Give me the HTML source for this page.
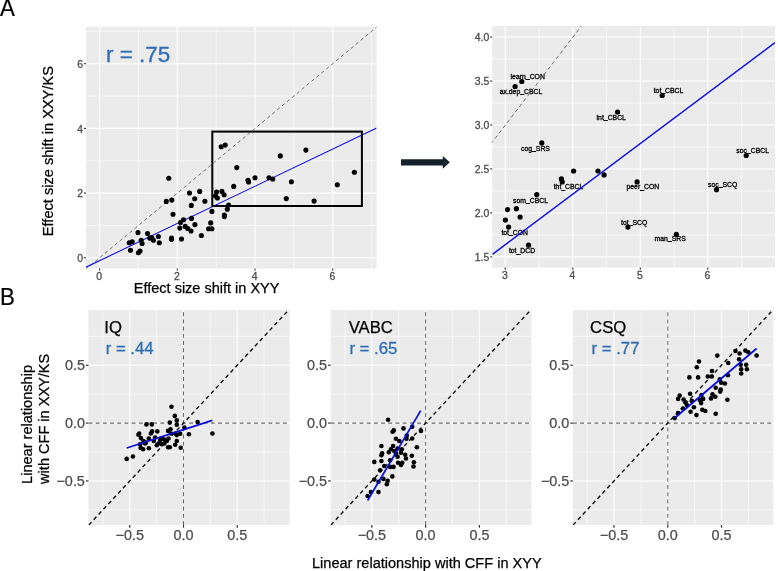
<!DOCTYPE html><html><head><meta charset="utf-8"><title>Figure</title><style>
html,body{margin:0;padding:0;background:#fff;}body{width:778px;height:571px;overflow:hidden;}
svg{display:block;font-family:"Liberation Sans",sans-serif;will-change:transform;}
</style></head><body>
<svg width="778" height="571" viewBox="0 0 778 571">
<rect width="778" height="571" fill="#fff"/>
<clipPath id="cA"><rect x="86.0" y="26.7" width="290.60" height="241.80"/></clipPath>
<rect x="86.0" y="26.7" width="290.60" height="241.80" fill="#EBEBEB"/>
<g stroke="#fff" stroke-width="0.62">
<line x1="138.45" y1="26.7" x2="138.45" y2="268.5"/>
<line x1="216.15" y1="26.7" x2="216.15" y2="268.5"/>
<line x1="293.85" y1="26.7" x2="293.85" y2="268.5"/>
<line x1="371.55" y1="26.7" x2="371.55" y2="268.5"/>
<line x1="86.0" y1="225.45" x2="376.6" y2="225.45"/>
<line x1="86.0" y1="160.75" x2="376.6" y2="160.75"/>
<line x1="86.0" y1="96.05" x2="376.6" y2="96.05"/>
<line x1="86.0" y1="31.35" x2="376.6" y2="31.35"/>
</g><g stroke="#fff" stroke-width="1.1">
<line x1="99.60" y1="26.7" x2="99.60" y2="268.5"/>
<line x1="177.30" y1="26.7" x2="177.30" y2="268.5"/>
<line x1="255.00" y1="26.7" x2="255.00" y2="268.5"/>
<line x1="332.70" y1="26.7" x2="332.70" y2="268.5"/>
<line x1="86.0" y1="257.80" x2="376.6" y2="257.80"/>
<line x1="86.0" y1="193.10" x2="376.6" y2="193.10"/>
<line x1="86.0" y1="128.40" x2="376.6" y2="128.40"/>
<line x1="86.0" y1="63.70" x2="376.6" y2="63.70"/>
</g>
<g clip-path="url(#cA)">
<line x1="60.7" y1="290.2" x2="410.4" y2="-1.0" stroke="#707070" stroke-width="1" stroke-dasharray="3.4 3"/>
<line x1="86" y1="267.2" x2="376.6" y2="128.0" stroke="#0A0ADC" stroke-width="1.05"/>
<g fill="#000">
<circle cx="129.2" cy="242.7" r="2.55"/>
<circle cx="132.2" cy="241.8" r="2.55"/>
<circle cx="130.5" cy="250.2" r="2.55"/>
<circle cx="138.0" cy="232.6" r="2.55"/>
<circle cx="141.2" cy="240.2" r="2.55"/>
<circle cx="142.1" cy="243.5" r="2.55"/>
<circle cx="140.0" cy="251.0" r="2.55"/>
<circle cx="138.4" cy="252.7" r="2.55"/>
<circle cx="147.6" cy="233.5" r="2.55"/>
<circle cx="149.7" cy="238.1" r="2.55"/>
<circle cx="151.7" cy="237.6" r="2.55"/>
<circle cx="153.4" cy="240.2" r="2.55"/>
<circle cx="158.4" cy="236.5" r="2.55"/>
<circle cx="159.3" cy="242.7" r="2.55"/>
<circle cx="166.3" cy="201.4" r="2.55"/>
<circle cx="171.8" cy="200.1" r="2.55"/>
<circle cx="173.0" cy="214.3" r="2.55"/>
<circle cx="171.5" cy="238.0" r="2.55"/>
<circle cx="171.5" cy="239.2" r="2.55"/>
<circle cx="181.5" cy="239.0" r="2.55"/>
<circle cx="183.5" cy="219.8" r="2.55"/>
<circle cx="180.5" cy="222.6" r="2.55"/>
<circle cx="179.8" cy="228.1" r="2.55"/>
<circle cx="185.2" cy="226.4" r="2.55"/>
<circle cx="187.7" cy="228.5" r="2.55"/>
<circle cx="191.0" cy="231.0" r="2.55"/>
<circle cx="191.5" cy="218.4" r="2.55"/>
<circle cx="194.9" cy="224.6" r="2.55"/>
<circle cx="201.4" cy="235.5" r="2.55"/>
<circle cx="189.5" cy="193.0" r="2.55"/>
<circle cx="199.7" cy="191.4" r="2.55"/>
<circle cx="194.7" cy="198.7" r="2.55"/>
<circle cx="191.3" cy="205.4" r="2.55"/>
<circle cx="204.9" cy="201.2" r="2.55"/>
<circle cx="211.9" cy="211.4" r="2.55"/>
<circle cx="210.7" cy="222.9" r="2.55"/>
<circle cx="208.6" cy="228.8" r="2.55"/>
<circle cx="211.9" cy="228.8" r="2.55"/>
<circle cx="216.6" cy="192.0" r="2.55"/>
<circle cx="221.9" cy="191.4" r="2.55"/>
<circle cx="215.6" cy="195.9" r="2.55"/>
<circle cx="217.4" cy="198.0" r="2.55"/>
<circle cx="224.1" cy="194.7" r="2.55"/>
<circle cx="228.6" cy="205.1" r="2.55"/>
<circle cx="227.3" cy="209.2" r="2.55"/>
<circle cx="224.4" cy="215.1" r="2.55"/>
<circle cx="224.4" cy="216.6" r="2.55"/>
<circle cx="233.7" cy="186.4" r="2.55"/>
<circle cx="248.0" cy="180.3" r="2.55"/>
<circle cx="248.6" cy="181.9" r="2.55"/>
<circle cx="168.8" cy="178.2" r="2.55"/>
<circle cx="221.2" cy="146.8" r="2.55"/>
<circle cx="225.2" cy="145.1" r="2.55"/>
<circle cx="236.8" cy="167.6" r="2.55"/>
<circle cx="280.3" cy="155.9" r="2.55"/>
<circle cx="305.9" cy="150.1" r="2.55"/>
<circle cx="255.0" cy="177.7" r="2.55"/>
<circle cx="269.0" cy="177.7" r="2.55"/>
<circle cx="272.7" cy="179.0" r="2.55"/>
<circle cx="291.4" cy="181.8" r="2.55"/>
<circle cx="286.3" cy="198.6" r="2.55"/>
<circle cx="314.1" cy="201.1" r="2.55"/>
<circle cx="354.4" cy="172.2" r="2.55"/>
<circle cx="337.3" cy="184.7" r="2.55"/>
</g>
</g>
<rect x="212.3" y="131.6" width="149.6" height="74.4" fill="none" stroke="#000" stroke-width="2"/>
<text x="106.1" y="61.9" font-size="22.4" fill="#2F6EB5" stroke="#2F6EB5" stroke-width="0.35">r = .75</text>
<g stroke="#333" stroke-width="1.1">
<line x1="83.9" y1="257.80" x2="86" y2="257.80"/>
<line x1="99.60" y1="268.5" x2="99.60" y2="270.6"/>
<line x1="83.9" y1="193.10" x2="86" y2="193.10"/>
<line x1="177.30" y1="268.5" x2="177.30" y2="270.6"/>
<line x1="83.9" y1="128.40" x2="86" y2="128.40"/>
<line x1="255.00" y1="268.5" x2="255.00" y2="270.6"/>
<line x1="83.9" y1="63.70" x2="86" y2="63.70"/>
<line x1="332.70" y1="268.5" x2="332.70" y2="270.6"/>
</g>
<g font-size="10.4" fill="#4D4D4D" stroke="#4D4D4D" stroke-width="0.3">
<text x="83.0" y="262.0" text-anchor="end">0</text>
<text x="99.2" y="280.2" text-anchor="middle">0</text>
<text x="83.0" y="197.3" text-anchor="end">2</text>
<text x="176.9" y="280.2" text-anchor="middle">2</text>
<text x="83.0" y="132.6" text-anchor="end">4</text>
<text x="254.6" y="280.2" text-anchor="middle">4</text>
<text x="83.0" y="67.9" text-anchor="end">6</text>
<text x="332.3" y="280.2" text-anchor="middle">6</text>
</g>
<text x="133.8" y="293" font-size="14.5" fill="#000" stroke="#000" stroke-width="0.25">Effect size shift in XYY</text>
<text transform="translate(52.9,236.2) rotate(-90)" font-size="14.6" fill="#000" stroke="#000" stroke-width="0.25">Effect size shift in XXY/KS</text>
<text transform="translate(-0.1,15.6) scale(1,1.065)" font-size="22.3" fill="#000" stroke="#000" stroke-width="0.2">A</text>
<text transform="translate(0.1,305.0) scale(1,1.065)" font-size="22.3" fill="#000" stroke="#000" stroke-width="0.2">B</text>
<path d="M401 159.3 H442.8 V156 L449.8 162.3 L442.8 168.7 V165.4 H401 Z" fill="#14212B"/>
<clipPath id="cR"><rect x="492.2" y="25.9" width="282.80" height="241.70"/></clipPath>
<rect x="492.2" y="25.9" width="282.80" height="241.70" fill="#EBEBEB"/>
<g stroke="#fff" stroke-width="0.62">
<line x1="539.05" y1="25.9" x2="539.05" y2="267.6"/>
<line x1="606.55" y1="25.9" x2="606.55" y2="267.6"/>
<line x1="674.05" y1="25.9" x2="674.05" y2="267.6"/>
<line x1="741.55" y1="25.9" x2="741.55" y2="267.6"/>
<line x1="492.2" y1="234.92" x2="775.0" y2="234.92"/>
<line x1="492.2" y1="190.94" x2="775.0" y2="190.94"/>
<line x1="492.2" y1="146.97" x2="775.0" y2="146.97"/>
<line x1="492.2" y1="103.00" x2="775.0" y2="103.00"/>
<line x1="492.2" y1="59.03" x2="775.0" y2="59.03"/>
</g><g stroke="#fff" stroke-width="1.1">
<line x1="505.30" y1="25.9" x2="505.30" y2="267.6"/>
<line x1="572.80" y1="25.9" x2="572.80" y2="267.6"/>
<line x1="640.30" y1="25.9" x2="640.30" y2="267.6"/>
<line x1="707.80" y1="25.9" x2="707.80" y2="267.6"/>
<line x1="492.2" y1="256.90" x2="775.0" y2="256.90"/>
<line x1="492.2" y1="212.93" x2="775.0" y2="212.93"/>
<line x1="492.2" y1="168.96" x2="775.0" y2="168.96"/>
<line x1="492.2" y1="124.99" x2="775.0" y2="124.99"/>
<line x1="492.2" y1="81.02" x2="775.0" y2="81.02"/>
<line x1="492.2" y1="37.05" x2="775.0" y2="37.05"/>
</g>
<g font-size="6.85" fill="#000" stroke="#000" stroke-width="0.3">
<text x="510.6" y="78.5">learn<tspan dy="-0.7">_</tspan><tspan dy="0.7">CON</tspan></text>
<text x="499.7" y="94.0">ax.dep<tspan dy="-0.7">_</tspan><tspan dy="0.7">CBCL</tspan></text>
<text x="521.0" y="150.6">cog<tspan dy="-0.7">_</tspan><tspan dy="0.7">SRS</tspan></text>
<text x="553.7" y="189.4">tht<tspan dy="-0.7">_</tspan><tspan dy="0.7">CBCL</tspan></text>
<text x="596.6" y="119.7">int<tspan dy="-0.7">_</tspan><tspan dy="0.7">CBCL</tspan></text>
<text x="513.1" y="202.6">som<tspan dy="-0.7">_</tspan><tspan dy="0.7">CBCL</tspan></text>
<text x="501.4" y="234.8">tot<tspan dy="-0.7">_</tspan><tspan dy="0.7">CON</tspan></text>
<text x="508.9" y="253.2">tot<tspan dy="-0.7">_</tspan><tspan dy="0.7">DCD</tspan></text>
<text x="653.7" y="92.7">tot<tspan dy="-0.7">_</tspan><tspan dy="0.7">CBCL</tspan></text>
<text x="626.5" y="189.4">peer<tspan dy="-0.7">_</tspan><tspan dy="0.7">CON</tspan></text>
<text x="708.0" y="186.7">soc<tspan dy="-0.7">_</tspan><tspan dy="0.7">SCQ</tspan></text>
<text x="736.3" y="152.6">soc<tspan dy="-0.7">_</tspan><tspan dy="0.7">CBCL</tspan></text>
<text x="621.1" y="224.5">tot<tspan dy="-0.7">_</tspan><tspan dy="0.7">SCQ</tspan></text>
<text x="654.5" y="240.9">man<tspan dy="-0.7">_</tspan><tspan dy="0.7">SRS</tspan></text>
</g>
<g clip-path="url(#cR)">
<line x1="437.8" y1="213.1" x2="640.3" y2="-50.7" stroke="#6c6c6c" stroke-width="1" stroke-dasharray="3.8 2.9"/>
<g fill="#000">
<circle cx="521.8" cy="81.5" r="2.6"/>
<circle cx="515.1" cy="86.5" r="2.6"/>
<circle cx="541.8" cy="142.9" r="2.6"/>
<circle cx="573.6" cy="171.0" r="2.6"/>
<circle cx="598.0" cy="171.0" r="2.6"/>
<circle cx="604.1" cy="174.9" r="2.6"/>
<circle cx="561.4" cy="178.9" r="2.6"/>
<circle cx="562.2" cy="181.9" r="2.6"/>
<circle cx="536.8" cy="194.6" r="2.6"/>
<circle cx="507.6" cy="209.6" r="2.6"/>
<circle cx="516.4" cy="208.7" r="2.6"/>
<circle cx="520.1" cy="217.1" r="2.6"/>
<circle cx="505.4" cy="220.1" r="2.6"/>
<circle cx="508.6" cy="227.1" r="2.6"/>
<circle cx="528.5" cy="245.2" r="2.6"/>
<circle cx="662.2" cy="95.5" r="2.6"/>
<circle cx="617.6" cy="112.0" r="2.6"/>
<circle cx="637.1" cy="181.9" r="2.6"/>
<circle cx="716.5" cy="189.7" r="2.6"/>
<circle cx="746.2" cy="155.5" r="2.6"/>
<circle cx="627.9" cy="227.1" r="2.6"/>
<circle cx="676.3" cy="234.4" r="2.6"/>
</g>
<line x1="492.4" y1="254.4" x2="775" y2="42.6" stroke="#0A0ADC" stroke-width="1.4"/>
</g>
<g stroke="#333" stroke-width="1.1">
<line x1="490.2" y1="256.90" x2="492.2" y2="256.90"/>
<line x1="490.2" y1="212.93" x2="492.2" y2="212.93"/>
<line x1="490.2" y1="168.96" x2="492.2" y2="168.96"/>
<line x1="490.2" y1="124.99" x2="492.2" y2="124.99"/>
<line x1="490.2" y1="81.02" x2="492.2" y2="81.02"/>
<line x1="490.2" y1="37.05" x2="492.2" y2="37.05"/>
<line x1="505.30" y1="267.6" x2="505.30" y2="269.7"/>
<line x1="572.80" y1="267.6" x2="572.80" y2="269.7"/>
<line x1="640.30" y1="267.6" x2="640.30" y2="269.7"/>
<line x1="707.80" y1="267.6" x2="707.80" y2="269.7"/>
</g>
<g font-size="10.4" fill="#4D4D4D" stroke="#4D4D4D" stroke-width="0.3">
<text x="489.3" y="260.8" text-anchor="end">1.5</text>
<text x="489.3" y="216.8" text-anchor="end">2.0</text>
<text x="489.3" y="172.9" text-anchor="end">2.5</text>
<text x="489.3" y="128.9" text-anchor="end">3.0</text>
<text x="489.3" y="84.9" text-anchor="end">3.5</text>
<text x="489.3" y="40.9" text-anchor="end">4.0</text>
<text x="505.0" y="279.0" text-anchor="middle">3</text>
<text x="572.5" y="279.0" text-anchor="middle">4</text>
<text x="640.0" y="279.0" text-anchor="middle">5</text>
<text x="707.5" y="279.0" text-anchor="middle">6</text>
</g>
<clipPath id="cB1"><rect x="88.45" y="310.0" width="201.25" height="215.00"/></clipPath>
<rect x="88.45" y="310.0" width="201.25" height="215.00" fill="#EBEBEB"/>
<g stroke="#fff" stroke-width="0.62">
<line x1="102.88" y1="310.0" x2="102.88" y2="525.0"/>
<line x1="156.62" y1="310.0" x2="156.62" y2="525.0"/>
<line x1="210.38" y1="310.0" x2="210.38" y2="525.0"/>
<line x1="264.12" y1="310.0" x2="264.12" y2="525.0"/>
<line x1="88.45" y1="509.88" x2="289.7" y2="509.88"/>
<line x1="88.45" y1="452.03" x2="289.7" y2="452.03"/>
<line x1="88.45" y1="394.18" x2="289.7" y2="394.18"/>
<line x1="88.45" y1="336.33" x2="289.7" y2="336.33"/>
</g><g stroke="#fff" stroke-width="1.1">
<line x1="129.75" y1="310.0" x2="129.75" y2="525.0"/>
<line x1="183.50" y1="310.0" x2="183.50" y2="525.0"/>
<line x1="237.25" y1="310.0" x2="237.25" y2="525.0"/>
<line x1="88.45" y1="480.95" x2="289.7" y2="480.95"/>
<line x1="88.45" y1="423.10" x2="289.7" y2="423.10"/>
<line x1="88.45" y1="365.25" x2="289.7" y2="365.25"/>
</g>
<g clip-path="url(#cB1)">
<line x1="88.45" y1="423.1" x2="289.7" y2="423.1" stroke="#6a6a6a" stroke-width="1.15" stroke-dasharray="3.9 3.3"/>
<line x1="183.5" y1="525.0" x2="183.5" y2="310.0" stroke="#4c4c4c" stroke-width="0.85" stroke-dasharray="4.0 3.2"/>
<line x1="88.82" y1="525.0" x2="301.8" y2="295.8" stroke="#111" stroke-width="1.4" stroke-dasharray="3.95 3.23"/>
<g fill="#000">
<circle cx="171.5" cy="406.7" r="2.3"/>
<circle cx="174.8" cy="415.9" r="2.3"/>
<circle cx="176.8" cy="420.4" r="2.3"/>
<circle cx="176.8" cy="424.8" r="2.3"/>
<circle cx="169.8" cy="422.6" r="2.3"/>
<circle cx="146.4" cy="424.4" r="2.3"/>
<circle cx="151.8" cy="424.4" r="2.3"/>
<circle cx="197.6" cy="422.1" r="2.3"/>
<circle cx="212.4" cy="433.5" r="2.3"/>
<circle cx="188.9" cy="434.3" r="2.3"/>
<circle cx="184.4" cy="427.6" r="2.3"/>
<circle cx="126.7" cy="458.9" r="2.3"/>
<circle cx="132.9" cy="456.5" r="2.3"/>
<circle cx="139.2" cy="433.5" r="2.3"/>
<circle cx="138.4" cy="434.8" r="2.3"/>
<circle cx="140.9" cy="438.1" r="2.3"/>
<circle cx="143.4" cy="441.0" r="2.3"/>
<circle cx="140.1" cy="444.3" r="2.3"/>
<circle cx="140.6" cy="447.7" r="2.3"/>
<circle cx="143.1" cy="449.3" r="2.3"/>
<circle cx="145.9" cy="442.6" r="2.3"/>
<circle cx="148.8" cy="438.5" r="2.3"/>
<circle cx="148.8" cy="448.2" r="2.3"/>
<circle cx="150.9" cy="433.5" r="2.3"/>
<circle cx="152.1" cy="431.4" r="2.3"/>
<circle cx="157.3" cy="431.4" r="2.3"/>
<circle cx="153.8" cy="441.0" r="2.3"/>
<circle cx="156.8" cy="445.2" r="2.3"/>
<circle cx="158.5" cy="443.5" r="2.3"/>
<circle cx="160.1" cy="440.1" r="2.3"/>
<circle cx="161.8" cy="444.3" r="2.3"/>
<circle cx="164.3" cy="443.5" r="2.3"/>
<circle cx="166.8" cy="441.0" r="2.3"/>
<circle cx="168.5" cy="438.5" r="2.3"/>
<circle cx="168.1" cy="447.2" r="2.3"/>
<circle cx="169.8" cy="447.2" r="2.3"/>
<circle cx="168.1" cy="430.9" r="2.3"/>
<circle cx="170.5" cy="429.3" r="2.3"/>
<circle cx="171.0" cy="433.5" r="2.3"/>
<circle cx="175.5" cy="433.5" r="2.3"/>
<circle cx="176.8" cy="435.1" r="2.3"/>
<circle cx="180.2" cy="433.8" r="2.3"/>
<circle cx="176.8" cy="441.0" r="2.3"/>
<circle cx="175.2" cy="444.8" r="2.3"/>
<circle cx="180.7" cy="447.8" r="2.3"/>
<circle cx="161.0" cy="438.5" r="2.3"/>
<circle cx="163.8" cy="439.3" r="2.3"/>
<circle cx="155.1" cy="437.6" r="2.3"/>
<circle cx="145.1" cy="443.5" r="2.3"/>
</g>
<line x1="126.7" y1="448.0" x2="212.3" y2="420.4" stroke="#0A0ADC" stroke-width="1.7"/>
</g>
<text x="104.3" y="333.2" font-size="16.7" fill="#000" stroke="#000" stroke-width="0.25">IQ</text>
<text x="105.7" y="354.4" font-size="16.75" fill="#2F6EB5" stroke="#2F6EB5" stroke-width="0.3">r = .44</text>
<g stroke="#333" stroke-width="1.2">
<line x1="85.9" y1="480.95" x2="88.45" y2="480.95"/>
<line x1="129.75" y1="525.0" x2="129.75" y2="527.7"/>
<line x1="85.9" y1="423.10" x2="88.45" y2="423.10"/>
<line x1="183.50" y1="525.0" x2="183.50" y2="527.7"/>
<line x1="85.9" y1="365.25" x2="88.45" y2="365.25"/>
<line x1="237.25" y1="525.0" x2="237.25" y2="527.7"/>
</g>
<g font-size="14.4" fill="#4D4D4D" stroke="#4D4D4D" stroke-width="0.25">
<text x="84.9" y="486.1" text-anchor="end">−0.5</text>
<text x="129.8" y="540.0" text-anchor="middle">−0.5</text>
<text x="84.9" y="428.2" text-anchor="end">0.0</text>
<text x="183.5" y="540.0" text-anchor="middle">0.0</text>
<text x="84.9" y="370.4" text-anchor="end">0.5</text>
<text x="237.2" y="540.0" text-anchor="middle">0.5</text>
</g>
<clipPath id="cB2"><rect x="330.7" y="310.0" width="200.70" height="215.00"/></clipPath>
<rect x="330.7" y="310.0" width="200.70" height="215.00" fill="#EBEBEB"/>
<g stroke="#fff" stroke-width="0.62">
<line x1="344.98" y1="310.0" x2="344.98" y2="525.0"/>
<line x1="398.73" y1="310.0" x2="398.73" y2="525.0"/>
<line x1="452.48" y1="310.0" x2="452.48" y2="525.0"/>
<line x1="506.23" y1="310.0" x2="506.23" y2="525.0"/>
<line x1="330.7" y1="509.88" x2="531.4" y2="509.88"/>
<line x1="330.7" y1="452.03" x2="531.4" y2="452.03"/>
<line x1="330.7" y1="394.18" x2="531.4" y2="394.18"/>
<line x1="330.7" y1="336.33" x2="531.4" y2="336.33"/>
</g><g stroke="#fff" stroke-width="1.1">
<line x1="371.85" y1="310.0" x2="371.85" y2="525.0"/>
<line x1="425.60" y1="310.0" x2="425.60" y2="525.0"/>
<line x1="479.35" y1="310.0" x2="479.35" y2="525.0"/>
<line x1="330.7" y1="480.95" x2="531.4" y2="480.95"/>
<line x1="330.7" y1="423.10" x2="531.4" y2="423.10"/>
<line x1="330.7" y1="365.25" x2="531.4" y2="365.25"/>
</g>
<g clip-path="url(#cB2)">
<line x1="330.7" y1="423.1" x2="531.4" y2="423.1" stroke="#6a6a6a" stroke-width="1.15" stroke-dasharray="3.9 3.3"/>
<line x1="425.6" y1="525.0" x2="425.6" y2="310.0" stroke="#4c4c4c" stroke-width="0.85" stroke-dasharray="4.0 3.2"/>
<line x1="330.92" y1="525.0" x2="543.9" y2="295.8" stroke="#111" stroke-width="1.4" stroke-dasharray="3.95 3.23"/>
<g fill="#000">
<circle cx="388.1" cy="419.8" r="2.3"/>
<circle cx="403.5" cy="428.4" r="2.3"/>
<circle cx="412.2" cy="426.8" r="2.3"/>
<circle cx="421.0" cy="430.9" r="2.3"/>
<circle cx="393.8" cy="430.4" r="2.3"/>
<circle cx="392.6" cy="431.8" r="2.3"/>
<circle cx="406.8" cy="435.6" r="2.3"/>
<circle cx="406.5" cy="438.8" r="2.3"/>
<circle cx="412.2" cy="438.5" r="2.3"/>
<circle cx="396.0" cy="438.8" r="2.3"/>
<circle cx="399.3" cy="441.0" r="2.3"/>
<circle cx="381.4" cy="446.0" r="2.3"/>
<circle cx="393.1" cy="446.0" r="2.3"/>
<circle cx="391.0" cy="449.3" r="2.3"/>
<circle cx="388.8" cy="452.3" r="2.3"/>
<circle cx="382.1" cy="453.2" r="2.3"/>
<circle cx="381.4" cy="455.2" r="2.3"/>
<circle cx="394.3" cy="451.0" r="2.3"/>
<circle cx="397.6" cy="448.5" r="2.3"/>
<circle cx="401.8" cy="449.3" r="2.3"/>
<circle cx="401.0" cy="452.7" r="2.3"/>
<circle cx="396.0" cy="453.5" r="2.3"/>
<circle cx="397.6" cy="456.8" r="2.3"/>
<circle cx="405.2" cy="454.8" r="2.3"/>
<circle cx="406.0" cy="458.5" r="2.3"/>
<circle cx="411.8" cy="455.7" r="2.3"/>
<circle cx="416.9" cy="447.2" r="2.3"/>
<circle cx="374.3" cy="461.9" r="2.3"/>
<circle cx="381.4" cy="461.0" r="2.3"/>
<circle cx="390.1" cy="460.2" r="2.3"/>
<circle cx="398.1" cy="462.7" r="2.3"/>
<circle cx="402.2" cy="462.7" r="2.3"/>
<circle cx="401.0" cy="464.9" r="2.3"/>
<circle cx="413.9" cy="462.2" r="2.3"/>
<circle cx="413.5" cy="466.5" r="2.3"/>
<circle cx="384.3" cy="466.0" r="2.3"/>
<circle cx="390.1" cy="466.9" r="2.3"/>
<circle cx="393.5" cy="466.9" r="2.3"/>
<circle cx="380.1" cy="470.2" r="2.3"/>
<circle cx="392.3" cy="476.4" r="2.3"/>
<circle cx="383.4" cy="478.9" r="2.3"/>
<circle cx="374.3" cy="479.5" r="2.3"/>
<circle cx="387.6" cy="480.9" r="2.3"/>
<circle cx="386.8" cy="484.3" r="2.3"/>
<circle cx="378.5" cy="481.8" r="2.3"/>
<circle cx="378.5" cy="492.1" r="2.3"/>
<circle cx="370.9" cy="492.1" r="2.3"/>
<circle cx="367.6" cy="496.0" r="2.3"/>
</g>
<line x1="367.6" y1="500.5" x2="420.7" y2="410.6" stroke="#0A0ADC" stroke-width="1.7"/>
</g>
<text x="348.7" y="333.2" font-size="16.7" fill="#000" stroke="#000" stroke-width="0.25">VABC</text>
<text x="349.4" y="354.4" font-size="16.75" fill="#2F6EB5" stroke="#2F6EB5" stroke-width="0.3">r = .65</text>
<g stroke="#333" stroke-width="1.2">
<line x1="328.1" y1="480.95" x2="330.7" y2="480.95"/>
<line x1="371.85" y1="525.0" x2="371.85" y2="527.7"/>
<line x1="328.1" y1="423.10" x2="330.7" y2="423.10"/>
<line x1="425.60" y1="525.0" x2="425.60" y2="527.7"/>
<line x1="328.1" y1="365.25" x2="330.7" y2="365.25"/>
<line x1="479.35" y1="525.0" x2="479.35" y2="527.7"/>
</g>
<g font-size="14.4" fill="#4D4D4D" stroke="#4D4D4D" stroke-width="0.25">
<text x="327.1" y="486.1" text-anchor="end">−0.5</text>
<text x="371.9" y="540.0" text-anchor="middle">−0.5</text>
<text x="327.1" y="428.2" text-anchor="end">0.0</text>
<text x="425.6" y="540.0" text-anchor="middle">0.0</text>
<text x="327.1" y="370.4" text-anchor="end">0.5</text>
<text x="479.4" y="540.0" text-anchor="middle">0.5</text>
</g>
<clipPath id="cB3"><rect x="572.9" y="310.0" width="200.40" height="215.00"/></clipPath>
<rect x="572.9" y="310.0" width="200.40" height="215.00" fill="#EBEBEB"/>
<g stroke="#fff" stroke-width="0.62">
<line x1="587.12" y1="310.0" x2="587.12" y2="525.0"/>
<line x1="640.88" y1="310.0" x2="640.88" y2="525.0"/>
<line x1="694.62" y1="310.0" x2="694.62" y2="525.0"/>
<line x1="748.38" y1="310.0" x2="748.38" y2="525.0"/>
<line x1="572.9" y1="509.88" x2="773.3" y2="509.88"/>
<line x1="572.9" y1="452.03" x2="773.3" y2="452.03"/>
<line x1="572.9" y1="394.18" x2="773.3" y2="394.18"/>
<line x1="572.9" y1="336.33" x2="773.3" y2="336.33"/>
</g><g stroke="#fff" stroke-width="1.1">
<line x1="614.00" y1="310.0" x2="614.00" y2="525.0"/>
<line x1="667.75" y1="310.0" x2="667.75" y2="525.0"/>
<line x1="721.50" y1="310.0" x2="721.50" y2="525.0"/>
<line x1="572.9" y1="480.95" x2="773.3" y2="480.95"/>
<line x1="572.9" y1="423.10" x2="773.3" y2="423.10"/>
<line x1="572.9" y1="365.25" x2="773.3" y2="365.25"/>
</g>
<g clip-path="url(#cB3)">
<line x1="572.9" y1="423.1" x2="773.3" y2="423.1" stroke="#6a6a6a" stroke-width="1.15" stroke-dasharray="3.9 3.3"/>
<line x1="667.8" y1="525.0" x2="667.8" y2="310.0" stroke="#4c4c4c" stroke-width="0.85" stroke-dasharray="4.0 3.2"/>
<line x1="573.07" y1="525.0" x2="786.0" y2="295.8" stroke="#111" stroke-width="1.4" stroke-dasharray="3.95 3.23"/>
<g fill="#000">
<circle cx="717.3" cy="355.6" r="2.3"/>
<circle cx="699.0" cy="361.5" r="2.3"/>
<circle cx="696.8" cy="367.2" r="2.3"/>
<circle cx="735.4" cy="351.0" r="2.3"/>
<circle cx="739.6" cy="353.5" r="2.3"/>
<circle cx="745.4" cy="350.6" r="2.3"/>
<circle cx="748.3" cy="352.3" r="2.3"/>
<circle cx="756.6" cy="355.5" r="2.3"/>
<circle cx="739.1" cy="359.3" r="2.3"/>
<circle cx="728.2" cy="363.0" r="2.3"/>
<circle cx="740.7" cy="364.8" r="2.3"/>
<circle cx="746.2" cy="364.8" r="2.3"/>
<circle cx="746.9" cy="369.3" r="2.3"/>
<circle cx="741.2" cy="369.3" r="2.3"/>
<circle cx="741.2" cy="373.5" r="2.3"/>
<circle cx="712.0" cy="371.0" r="2.3"/>
<circle cx="707.8" cy="376.5" r="2.3"/>
<circle cx="711.8" cy="376.5" r="2.3"/>
<circle cx="727.9" cy="375.2" r="2.3"/>
<circle cx="689.4" cy="377.4" r="2.3"/>
<circle cx="698.1" cy="377.4" r="2.3"/>
<circle cx="719.8" cy="379.4" r="2.3"/>
<circle cx="721.2" cy="382.7" r="2.3"/>
<circle cx="724.9" cy="383.5" r="2.3"/>
<circle cx="715.7" cy="387.8" r="2.3"/>
<circle cx="720.7" cy="389.5" r="2.3"/>
<circle cx="720.2" cy="391.6" r="2.3"/>
<circle cx="690.1" cy="393.8" r="2.3"/>
<circle cx="712.5" cy="394.4" r="2.3"/>
<circle cx="679.7" cy="395.6" r="2.3"/>
<circle cx="678.1" cy="398.9" r="2.3"/>
<circle cx="683.6" cy="399.6" r="2.3"/>
<circle cx="685.1" cy="402.1" r="2.3"/>
<circle cx="686.8" cy="405.1" r="2.3"/>
<circle cx="691.8" cy="400.9" r="2.3"/>
<circle cx="683.1" cy="408.8" r="2.3"/>
<circle cx="678.1" cy="413.1" r="2.3"/>
<circle cx="674.7" cy="418.1" r="2.3"/>
<circle cx="690.6" cy="411.8" r="2.3"/>
<circle cx="693.9" cy="407.3" r="2.3"/>
<circle cx="696.5" cy="415.1" r="2.3"/>
<circle cx="701.5" cy="395.1" r="2.3"/>
<circle cx="703.1" cy="398.9" r="2.3"/>
<circle cx="699.8" cy="400.1" r="2.3"/>
<circle cx="701.1" cy="403.1" r="2.3"/>
<circle cx="702.3" cy="409.8" r="2.3"/>
<circle cx="705.3" cy="411.0" r="2.3"/>
<circle cx="711.0" cy="398.4" r="2.3"/>
<circle cx="715.3" cy="396.8" r="2.3"/>
<circle cx="715.7" cy="413.8" r="2.3"/>
<circle cx="727.4" cy="399.8" r="2.3"/>
</g>
<line x1="674.7" y1="418.0" x2="756.6" y2="348.5" stroke="#0A0ADC" stroke-width="1.7"/>
</g>
<text x="590.1" y="333.2" font-size="16.7" fill="#000" stroke="#000" stroke-width="0.25">CSQ</text>
<text x="591.5" y="354.4" font-size="16.75" fill="#2F6EB5" stroke="#2F6EB5" stroke-width="0.3">r = .77</text>
<g stroke="#333" stroke-width="1.2">
<line x1="570.3" y1="480.95" x2="572.9" y2="480.95"/>
<line x1="614.00" y1="525.0" x2="614.00" y2="527.7"/>
<line x1="570.3" y1="423.10" x2="572.9" y2="423.10"/>
<line x1="667.75" y1="525.0" x2="667.75" y2="527.7"/>
<line x1="570.3" y1="365.25" x2="572.9" y2="365.25"/>
<line x1="721.50" y1="525.0" x2="721.50" y2="527.7"/>
</g>
<g font-size="14.4" fill="#4D4D4D" stroke="#4D4D4D" stroke-width="0.25">
<text x="569.3" y="486.1" text-anchor="end">−0.5</text>
<text x="614.0" y="540.0" text-anchor="middle">−0.5</text>
<text x="569.3" y="428.2" text-anchor="end">0.0</text>
<text x="667.8" y="540.0" text-anchor="middle">0.0</text>
<text x="569.3" y="370.4" text-anchor="end">0.5</text>
<text x="721.5" y="540.0" text-anchor="middle">0.5</text>
</g>
<text x="312.0" y="567.7" font-size="14.55" fill="#000" stroke="#000" stroke-width="0.25">Linear relationship with CFF in XYY</text>
<text transform="translate(31.5,483.9) rotate(-90)" font-size="14.55" fill="#000" stroke="#000" stroke-width="0.25">Linear relationship</text>
<text transform="translate(49.0,483.9) rotate(-90)" font-size="14.55" fill="#000" stroke="#000" stroke-width="0.25">with CFF in XXY/KS</text>
</svg></body></html>
